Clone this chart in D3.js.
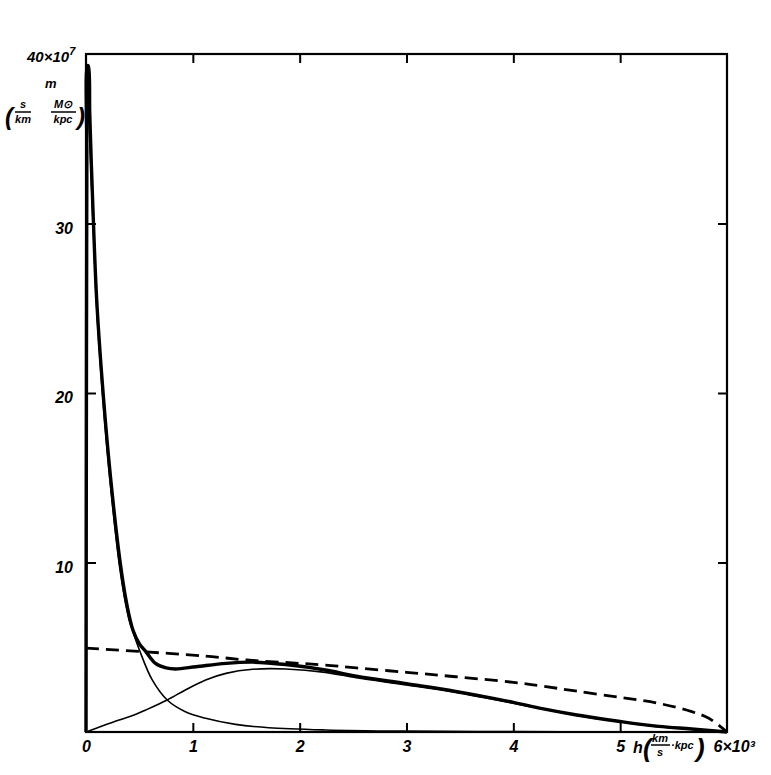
<!DOCTYPE html>
<html>
<head>
<meta charset="utf-8">
<script src="https://cdn.jsdelivr.net/npm/d3@7"></script>
<style>
  body { margin: 0; background: #fff; }
  text { font-family: "Liberation Sans", Arial, sans-serif; font-weight: bold; font-style: italic; fill: #000; }
</style>
</head>
<body>
<div id="chart"></div>
<script>
// h in 10^3 km/s*kpc, m in 10^7 (s/km)(Msun/kpc)
const totalH = [0, 0.004, 0.008, 0.014, 0.022, 0.035, 0.05, 0.07, 0.1, 0.16, 0.23, 0.32, 0.38, 0.44, 0.5, 0.56, 0.65, 0.75, 0.84, 1.03, 1.31, 1.56, 1.87, 2.24, 2.53, 3.0, 3.46, 4.0, 4.27, 4.58, 5.0, 5.36, 5.67, 6.0];
const totalM = [0, 20, 34, 39.3, 39.3, 36.5, 33.5, 30, 25.5, 20, 15, 10, 7.6, 6.0, 5.2, 4.74, 4.05, 3.78, 3.72, 3.85, 4.05, 4.12, 3.98, 3.66, 3.3, 2.85, 2.4, 1.75, 1.38, 1.02, 0.62, 0.33, 0.18, 0];

const coreH = [0.012, 0.03, 0.05, 0.07, 0.1, 0.16, 0.23, 0.32, 0.4, 0.44, 0.5, 0.62, 0.76, 0.93, 1.12, 1.4, 1.71, 2.24, 3.0, 4.0, 5.0, 6.0];
const coreM = [38.5, 36, 32.5, 29.5, 25, 19.5, 14.5, 9.5, 6.7, 5.9, 4.84, 3.07, 1.89, 1.2, 0.81, 0.45, 0.25, 0.12, 0.05, 0.02, 0.005, 0];

const haloH = [0, 0.15, 0.31, 0.45, 0.56, 0.76, 0.93, 1.12, 1.31, 1.56, 1.87, 2.24, 2.53, 3.0, 3.46, 4.0, 4.58, 5.0, 5.36, 5.67, 6.0];
const haloM = [0, 0.35, 0.71, 1.0, 1.3, 1.89, 2.48, 3.07, 3.46, 3.7, 3.72, 3.52, 3.2, 2.78, 2.34, 1.7, 0.99, 0.6, 0.31, 0.17, 0];

const dashH = [0, 0.5, 1.12, 1.5, 2.0, 2.24, 2.53, 3.0, 3.46, 4.0, 4.27, 4.58, 5.0, 5.36, 5.67, 5.83, 6.0];
const dashM = [4.95, 4.75, 4.48, 4.25, 4.05, 3.95, 3.78, 3.52, 3.26, 2.93, 2.71, 2.42, 2.04, 1.69, 1.2, 0.81, 0];

const xTicks = [0, 1, 2, 3, 4, 5, 6];
const xTickLabels = ["0", "1", "2", "3", "4", "5", "6×10³"];
const yTicks = [10, 20, 30];

const width = 771, height = 775;
const plotL = 86, plotR = 727, plotT = 54, plotB = 732;

const svg = d3.select("#chart").append("svg")
    .attr("width", width)
    .attr("height", height);

const x = d3.scaleLinear().domain([0, 6]).range([plotL, plotR]);
const y = d3.scaleLinear().domain([0, 40]).range([plotB, plotT]);

const zip = (hs, ms) => hs.map((h, i) => [h, ms[i]]);
const line = d3.line()
    .x(d => x(d[0]))
    .y(d => y(d[1]))
    .curve(d3.curveCatmullRom.alpha(0.5));

// curves
svg.append("path").attr("d", line(zip(haloH, haloM)))
    .attr("fill", "none").attr("stroke", "#000").attr("stroke-width", 1.6);
svg.append("path").attr("d", line(zip(coreH, coreM)))
    .attr("fill", "none").attr("stroke", "#000").attr("stroke-width", 1.6);
svg.append("path").attr("d", line(zip(dashH, dashM)))
    .attr("fill", "none").attr("stroke", "#000").attr("stroke-width", 2.8)
    .attr("stroke-dasharray", "13,7");
svg.append("path").attr("d", line(zip(totalH, totalM)))
    .attr("fill", "none").attr("stroke", "#000").attr("stroke-width", 3.4)
    .attr("stroke-linejoin", "round");

// frame
svg.append("rect")
    .attr("x", plotL).attr("y", plotT)
    .attr("width", plotR - plotL).attr("height", plotB - plotT)
    .attr("fill", "none").attr("stroke", "#000").attr("stroke-width", 2.2);

// bottom axis
const xAxis = svg.append("g")
    .attr("transform", `translate(0,${plotB})`)
    .call(d3.axisBottom(x).tickValues(xTicks)
        .tickFormat((d, i) => xTickLabels[i])
        .tickSizeInner(-9).tickSizeOuter(0).tickPadding(9));
xAxis.select(".domain").remove();
xAxis.selectAll("line").attr("stroke", "#000").attr("stroke-width", 2);
xAxis.selectAll("text").attr("font-size", 16).attr("fill", "#000")
    .attr("font-family", null);
xAxis.selectAll(".tick").filter(d => d === 0 || d === 6).select("line").remove();
xAxis.selectAll(".tick").filter(d => d === 6).select("text")
    .attr("text-anchor", "start").attr("x", -14);

// top ticks
const topAxis = svg.append("g")
    .attr("transform", `translate(0,${plotT})`)
    .call(d3.axisTop(x).tickValues([1, 2, 3, 4, 5]).tickFormat("")
        .tickSizeInner(-9).tickSizeOuter(0));
topAxis.select(".domain").remove();
topAxis.selectAll("line").attr("stroke", "#000").attr("stroke-width", 2);

// left axis
const yAxis = svg.append("g")
    .attr("transform", `translate(${plotL},0)`)
    .call(d3.axisLeft(y).tickValues(yTicks)
        .tickSizeInner(-10).tickSizeOuter(0).tickPadding(13));
yAxis.select(".domain").remove();
yAxis.selectAll("line").attr("stroke", "#000").attr("stroke-width", 2);
yAxis.selectAll("text").attr("font-size", 16).attr("fill", "#000")
    .attr("font-family", null).attr("dy", "0.62em");

// right ticks
const rAxis = svg.append("g")
    .attr("transform", `translate(${plotR},0)`)
    .call(d3.axisRight(y).tickValues(yTicks).tickFormat("")
        .tickSizeInner(-9).tickSizeOuter(0));
rAxis.select(".domain").remove();
rAxis.selectAll("line").attr("stroke", "#000").attr("stroke-width", 2);

// y axis unit label
const topLab = svg.append("text").attr("x", 27).attr("y", 62).attr("font-size", 15);
topLab.append("tspan").text("40×10");
topLab.append("tspan").attr("dy", -7).attr("font-size", 11).text("7");

svg.append("text").attr("x", 45).attr("y", 88).attr("font-size", 13).text("m");

const ylab = svg.append("g").attr("font-size", 11);
ylab.append("text").attr("x", 5).attr("y", 125).attr("font-size", 24)
    .attr("font-style", "normal").attr("font-weight", "normal").text("(");
ylab.append("text").attr("x", 23).attr("y", 108).attr("text-anchor", "middle").text("s");
ylab.append("line").attr("x1", 15).attr("x2", 31).attr("y1", 112).attr("y2", 112)
    .attr("stroke", "#000").attr("stroke-width", 1.5);
ylab.append("text").attr("x", 23).attr("y", 123).attr("text-anchor", "middle").text("km");
ylab.append("text").attr("x", 63).attr("y", 108).attr("text-anchor", "middle").text("M⊙");
ylab.append("line").attr("x1", 51).attr("x2", 76).attr("y1", 112).attr("y2", 112)
    .attr("stroke", "#000").attr("stroke-width", 1.5);
ylab.append("text").attr("x", 63).attr("y", 123).attr("text-anchor", "middle").text("kpc");
ylab.append("text").attr("x", 77).attr("y", 125).attr("font-size", 24)
    .attr("font-style", "normal").attr("font-weight", "normal").text(")");

// x axis unit label
const xlab = svg.append("g").attr("font-size", 11);
xlab.append("text").attr("x", 633).attr("y", 753).attr("font-size", 16).text("h");
xlab.append("text").attr("x", 643).attr("y", 757).attr("font-size", 26)
    .attr("font-style", "normal").attr("font-weight", "normal").text("(");
xlab.append("text").attr("x", 660).attr("y", 742).attr("text-anchor", "middle").text("km");
xlab.append("line").attr("x1", 651).attr("x2", 670).attr("y1", 745).attr("y2", 745)
    .attr("stroke", "#000").attr("stroke-width", 1.5);
xlab.append("text").attr("x", 660).attr("y", 756).attr("text-anchor", "middle").text("s");
xlab.append("text").attr("x", 671).attr("y", 749).text("·kpc");
xlab.append("text").attr("x", 696).attr("y", 757).attr("font-size", 26)
    .attr("font-style", "normal").attr("font-weight", "normal").text(")");
</script>
</body>
</html>
